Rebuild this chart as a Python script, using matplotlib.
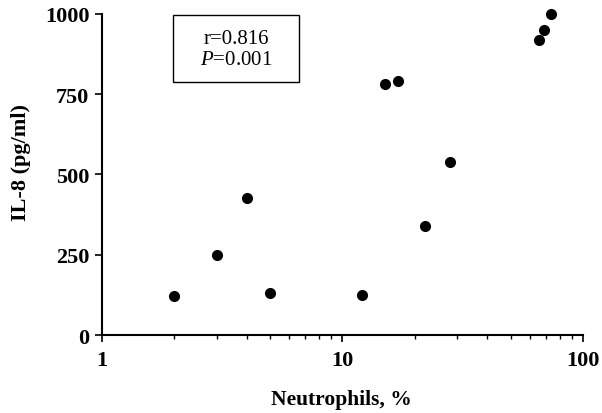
import matplotlib
matplotlib.use("Agg")
import matplotlib.pyplot as plt
from matplotlib.ticker import NullFormatter, LogLocator
from matplotlib.patches import Rectangle

plt.rcParams["mathtext.fontset"] = "custom"
plt.rcParams["mathtext.rm"] = "Liberation Serif"
plt.rcParams["mathtext.it"] = "Liberation Serif:italic"

neutrophils = [2, 3, 4, 5, 12, 15, 17, 22, 28, 65.5, 69, 73.5]
il8 = [121, 250, 428, 131, 125, 782, 790, 340, 540, 920, 950, 1000]
y_ticks = [0, 250, 500, 750, 1000]
x_ticks = [1, 10, 100]
x_tick_labels = ["1", "10", "100"]

serif = ["Liberation Serif", "DejaVu Serif"]

W, H = 602, 414
fig = plt.figure(figsize=(6.02, 4.14), dpi=100)
ax = fig.add_axes([0.1694, 0.1884, 0.799, 0.7754])
ax.plot(neutrophils, il8, "o", color="black", ms=8, mew=0, clip_on=False, zorder=3)
ax.set_xscale("log")
ax.set_xlim(1, 100)
ax.set_ylim(0, 1000)
ax.set_xticks(x_ticks)
ax.set_xticklabels(x_tick_labels)
ax.xaxis.set_minor_locator(LogLocator(base=10, subs=range(2, 10)))
ax.xaxis.set_minor_formatter(NullFormatter())
ax.set_yticks(y_ticks)
ax.set_yticklabels([str(v) for v in y_ticks])
for s in ["top", "right"]:
    ax.spines[s].set_visible(False)
for s in ["left", "bottom"]:
    ax.spines[s].set_linewidth(1.5)
ax.tick_params(axis="both", which="major", direction="out", length=5, width=1.2,
               labelsize=16, pad=4)
ax.tick_params(axis="x", which="minor", direction="out", length=3, width=1.0)
ax.tick_params(axis="x", which="major", pad=6)
for lab in ax.get_xticklabels() + ax.get_yticklabels():
    lab.set_family(serif)
    lab.set_fontweight("bold")

fig.text(341.5 / W, 1 - 400 / H, "Neutrophils, %", ha="center", va="center",
         fontsize=15.5, fontweight="bold", family=serif)
fig.text(21.5 / W, 1 - 162.5 / H, "IL-8 (pg/ml)", ha="center", va="center", rotation=90,
         fontsize=16, fontweight="bold", family=serif)

ax.add_patch(Rectangle((0.1476, 0.788), 0.262, 0.209, transform=ax.transAxes,
                       facecolor="white", edgecolor="black", linewidth=1, clip_on=False))
ax.text(0.2786, 0.925, "r=0.816", transform=ax.transAxes, ha="center", va="center",
        fontsize=15, family=serif)
ax.text(0.2786, 0.858, "$\\it{P}$=0.001", transform=ax.transAxes, ha="center", va="center",
        fontsize=15, family=serif)

fig.savefig("out.png", dpi=100)
